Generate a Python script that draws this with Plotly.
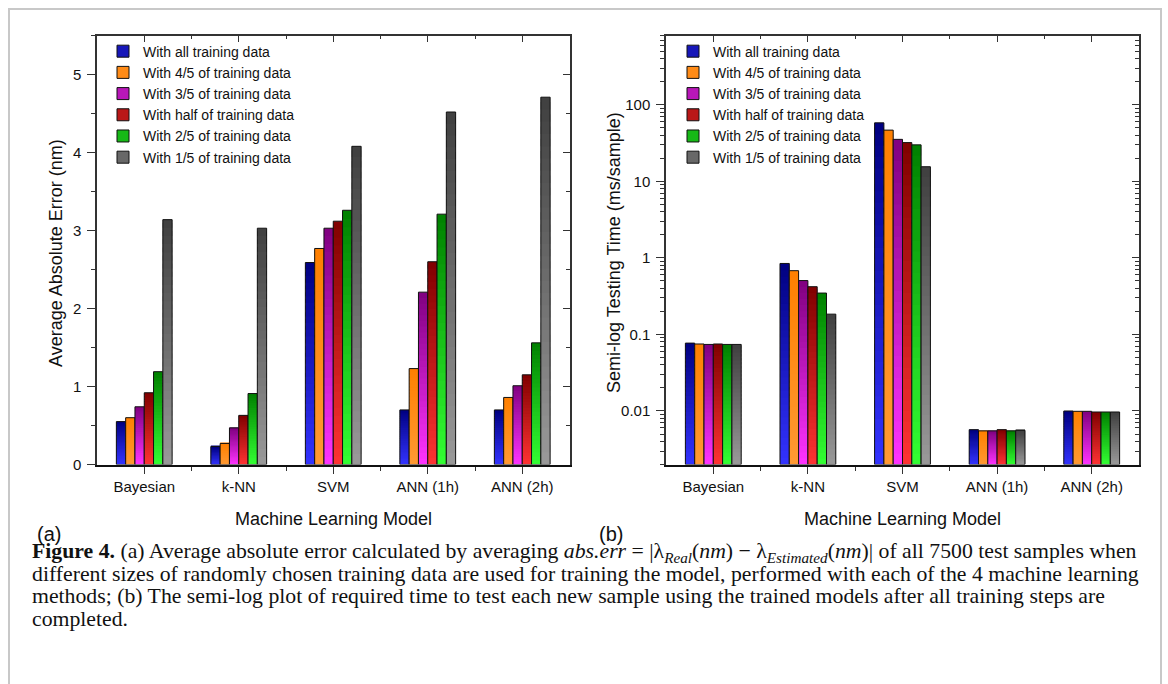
import plotly.graph_objects as go

W, H = 1168, 684

# ---------------- data ----------------
models = ["Bayesian", "k-NN", "SVM", "ANN (1h)", "ANN (2h)"]
series_names = [
    "With all training data",
    "With 4/5 of training data",
    "With 3/5 of training data",
    "With half of training data",
    "With 2/5 of training data",
    "With 1/5 of training data",
]

# (a) average absolute error (nm)
err_all = [0.55, 0.23, 2.59, 0.70, 0.70]
err_4_5 = [0.60, 0.27, 2.77, 1.23, 0.86]
err_3_5 = [0.74, 0.47, 3.03, 2.21, 1.01]
err_half = [0.92, 0.63, 3.12, 2.60, 1.15]
err_2_5 = [1.19, 0.91, 3.26, 3.21, 1.56]
err_1_5 = [3.14, 3.03, 4.08, 4.52, 4.71]

# (b) testing time (ms/sample)
time_all = [0.077, 0.845, 58.0, 0.0057, 0.0100]
time_4_5 = [0.075, 0.680, 46.6, 0.0055, 0.0099]
time_3_5 = [0.074, 0.505, 35.3, 0.0055, 0.0099]
time_half = [0.075, 0.420, 32.0, 0.0057, 0.0097]
time_2_5 = [0.074, 0.347, 29.9, 0.0055, 0.0097]
time_1_5 = [0.074, 0.184, 15.5, 0.0056, 0.0097]

errors = [err_all, err_4_5, err_3_5, err_half, err_2_5, err_1_5]
times = [time_all, time_4_5, time_3_5, time_half, time_2_5, time_1_5]

# ---------------- styles ----------------
top_colors = ["#000080", "#ff8000", "#800080", "#800000", "#008000", "#404040"]
bottom_colors = ["#3333ff", "#ff9933", "#ff33ff", "#ff3333", "#33ff33", "#999999"]
FONT = "Liberation Sans, Arial, sans-serif"
SERIF = "Liberation Serif, Times New Roman, serif"
N_SEG = 30
LOG_MIN, LOG_MAX = 0.002, 800.0


def hex2rgb(h):
    h = h.lstrip("#")
    return [int(h[i:i + 2], 16) for i in (0, 2, 4)]


def mix(c1, c2, t):
    a, b = hex2rgb(c1), hex2rgb(c2)
    return "rgb(%d,%d,%d)" % tuple(round(a[j] + (b[j] - a[j]) * t) for j in range(3))


XA = [97 / W, 569.5 / W]
XB = [666 / W, 1139 / W]
YD = [1 - 470 / H, 1 - 36 / H]

fig = go.Figure()
xpos = list(range(len(models)))


def add_panel(values_list, xa, ya, legend, log):
    for i, vals in enumerate(values_list):
        grp = "%s_%d" % (xa, i)
        for k in range(N_SEG):
            f0 = k / N_SEG
            # slight overlap with the next segment (drawn on top) to avoid seams
            f1 = min((k + 1.6) / N_SEG, 1.0)
            if log:
                lo = [LOG_MIN * (v / LOG_MIN) ** f0 for v in vals]
                hi = [LOG_MIN * (v / LOG_MIN) ** f1 for v in vals]
            else:
                lo = [v * f0 for v in vals]
                hi = [v * f1 for v in vals]
            fig.add_trace(go.Bar(
                x=xpos, y=[h - l for h, l in zip(hi, lo)], base=lo,
                xaxis=xa, yaxis=ya, offsetgroup=grp,
                marker=dict(color=mix(bottom_colors[i], top_colors[i], (k + 0.5) / N_SEG),
                            line=dict(width=0)),
                showlegend=False, hoverinfo="skip"))
        base = LOG_MIN if log else 0.0
        fig.add_trace(go.Bar(
            x=xpos, y=[v - base for v in vals], base=[base] * len(vals),
            xaxis=xa, yaxis=ya, offsetgroup=grp, name=series_names[i],
            marker=dict(color="rgba(0,0,0,0)", line=dict(color="#111111", width=1)),
            showlegend=False))
        fig.add_trace(go.Bar(
            x=[None], y=[None], xaxis=xa, yaxis=ya, offsetgroup=grp,
            name=series_names[i], legend=legend,
            marker=dict(color=mix(bottom_colors[i], top_colors[i], 0.55),
                        line=dict(color="#111111", width=1)),
            showlegend=True))


add_panel(errors, "x", "y", "legend", False)
add_panel(times, "x2", "y2", "legend2", True)

# empty traces so that the mirrored (top / right) axes get drawn
for xa_, ya_ in [("x3", "y"), ("x", "y3"), ("x4", "y2"), ("x2", "y4")]:
    fig.add_trace(go.Scatter(x=[None], y=[None], xaxis=xa_, yaxis=ya_, mode="markers",
                             showlegend=False, hoverinfo="skip"))

half_ticks = [0.5, 1.5, 2.5, 3.5]
log_major = [0.01, 0.1, 1, 10, 100]
log_major_text = ["0.01", "0.1", "1", "10", "100"]
log_minor = []
for d in range(-3, 3):
    for m in range(2, 10):
        v = m * 10 ** d
        if LOG_MIN <= v <= LOG_MAX:
            log_minor.append(v)

tickfont = dict(family=FONT, size=15, color="#111111")
axcommon = dict(showgrid=False, zeroline=False, showline=True, linecolor="#333333",
                linewidth=1.5, tickcolor="#333333", tickwidth=1.2, tickfont=tickfont)

xcommon = dict(axcommon, range=[-0.5, 4.5], tickmode="array", tickvals=xpos)
fig.update_layout(
    xaxis=dict(xcommon, domain=XA, anchor="y", ticktext=models, ticks="outside", ticklen=7,
               linecolor="#111111", linewidth=2,
               minor=dict(tickvals=half_ticks, ticks="outside", ticklen=4, tickcolor="#333333")),
    xaxis2=dict(xcommon, domain=XB, anchor="y2", ticktext=models, ticks="outside", ticklen=7,
                linecolor="#111111", linewidth=2,
                minor=dict(tickvals=half_ticks, ticks="outside", ticklen=4, tickcolor="#333333")),
    xaxis3=dict(xcommon, overlaying="x", side="top", anchor="y", ticks="inside", ticklen=7,
                showticklabels=False,
                minor=dict(tickvals=half_ticks, ticks="inside", ticklen=4, tickcolor="#333333")),
    xaxis4=dict(xcommon, overlaying="x2", side="top", anchor="y2", ticks="inside", ticklen=7,
                showticklabels=False,
                minor=dict(tickvals=half_ticks, ticks="inside", ticklen=4, tickcolor="#333333")),
    yaxis=dict(axcommon, domain=YD, anchor="x", range=[0, 5.5], tick0=0, dtick=1,
               ticks="outside", ticklen=8, ticklabelstandoff=3,
               minor=dict(dtick=0.5, tick0=0, ticks="outside", ticklen=4, tickcolor="#333333")),
    yaxis3=dict(axcommon, overlaying="y", side="right", anchor="x", range=[0, 5.5], tick0=0,
                dtick=1, ticks="inside", ticklen=7, showticklabels=False,
                minor=dict(dtick=0.5, tick0=0, ticks="inside", ticklen=4, tickcolor="#333333")),
    yaxis2=dict(axcommon, domain=YD, anchor="x2", type="log",
                range=[-2.69897, 2.90309], tickmode="array", tickvals=log_major,
                ticktext=log_major_text, ticks="outside", ticklen=8, ticklabelstandoff=3,
                minor=dict(tickmode="array", tickvals=log_minor, ticks="outside", ticklen=4,
                           tickcolor="#333333")),
    yaxis4=dict(axcommon, overlaying="y2", side="right", anchor="x2", type="log",
                range=[-2.69897, 2.90309], tickmode="array", tickvals=log_major,
                ticks="inside", ticklen=7, showticklabels=False,
                minor=dict(tickmode="array", tickvals=log_minor, ticks="inside", ticklen=4,
                           tickcolor="#333333")),
)

legend_common = dict(xanchor="left", yanchor="top", bgcolor="rgba(0,0,0,0)", borderwidth=0,
                     font=dict(family=FONT, size=14, color="#111111"),
                     traceorder="normal", tracegroupgap=0, itemwidth=30)
fig.update_layout(
    barmode="group", bargap=0.41, bargroupgap=0,
    legend=dict(legend_common, x=103 / W, y=1 - 36 / H),
    legend2=dict(legend_common, x=673 / W, y=1 - 36 / H),
    width=W, height=H, autosize=False,
    margin=dict(l=0, r=0, t=0, b=0),
    paper_bgcolor="white", plot_bgcolor="white",
    font=dict(family=FONT, color="#111111"),
)

annotations = [
    dict(text="Average Absolute Error (nm)", x=56 / W, y=1 - 256 / H, textangle=-90,
         font=dict(family=FONT, size=18)),
    dict(text="Semi-log Testing Time (ms/sample)", x=614 / W, y=1 - 256 / H, textangle=-90,
         font=dict(family=FONT, size=18)),
    dict(text="Machine Learning Model", x=(XA[0] + XA[1]) / 2, y=1 - 525 / H,
         font=dict(family=FONT, size=18)),
    dict(text="Machine Learning Model", x=(XB[0] + XB[1]) / 2, y=1 - 525 / H,
         font=dict(family=FONT, size=18)),
    dict(text="(a)", x=48.5 / W, y=1 - 540 / H, font=dict(family=FONT, size=20)),
    dict(text="(b)", x=611 / W, y=1 - 540 / H, font=dict(family=FONT, size=20)),
]
caption_lines = [
    "<b>Figure 4.</b> (a) Average absolute error calculated by averaging <i>abs.err</i> = "
    "|λ<sub><i>Real</i></sub>(<i>nm</i>) − λ<sub><i>Estimated</i></sub>(<i>nm</i>)| "
    "of all 7500 test samples when",
    "different sizes of randomly chosen training data are used for training the model, "
    "performed with each of the 4 machine learning",
    "methods; (b) The semi-log plot of required time to test each new sample using the "
    "trained models after all training steps are",
    "completed.",
]
caption_y = [559, 581, 603, 626]
for line, yy in zip(caption_lines, caption_y):
    annotations.append(dict(text=line, x=30 / W, y=1 - yy / H, xanchor="left",
                            font=dict(family=SERIF, size=21.75, color="#111111")))
for a in annotations:
    a.setdefault("xanchor", "center")
    a.update(xref="paper", yref="paper", yanchor="middle", showarrow=False)
fig.update_layout(annotations=annotations)

fig.add_shape(type="rect", xref="paper", yref="paper", x0=9 / W, x1=1161 / W,
              y0=-0.1, y1=1 - 9 / H, line=dict(color="#c8c8c8", width=2),
              fillcolor="rgba(0,0,0,0)", layer="below")

fig.write_html("out.html")
